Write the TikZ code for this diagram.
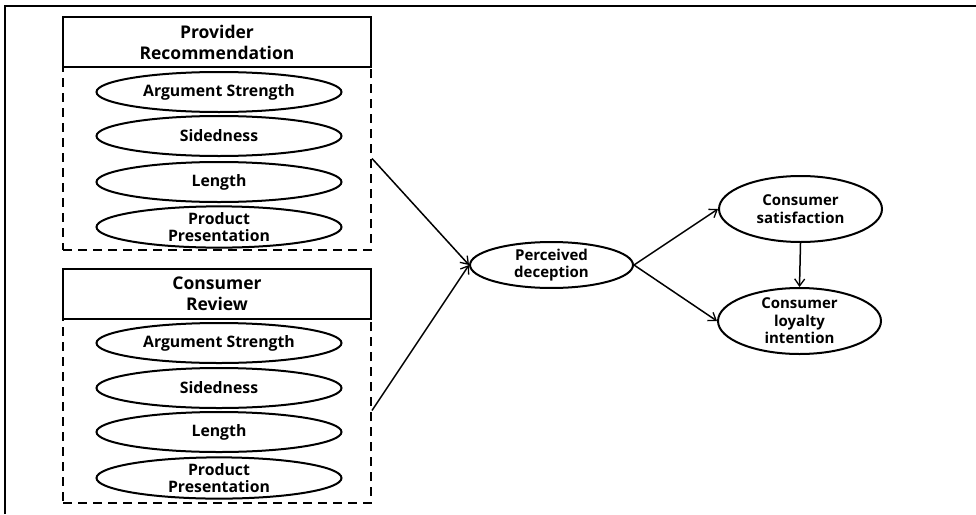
\documentclass[tikz,border=0pt]{standalone}
\usepackage{fontspec}
\setmainfont{Open Sans}
\usetikzlibrary{shapes.geometric,arrows.meta}
\begin{document}
\begin{tikzpicture}[x=1pt,y=-1pt,
  hdr/.style={draw, line width=2pt, fill=white, minimum width=308pt, minimum height=50pt, inner sep=0pt, align=center, font=\fontsize{17.5}{21}\selectfont\bfseries},
  grp/.style={draw, line width=2pt, dash pattern=on 9pt off 6pt, minimum width=308pt, inner sep=0pt},
  item/.style={draw, ellipse, line width=2pt, minimum width=245pt, minimum height=40pt, inner sep=0pt, align=center, font=\fontsize{15.8}{17}\selectfont\bfseries},
  var/.style={draw, ellipse, line width=2pt, minimum width=163pt, inner sep=0pt, align=center, font=\fontsize{15}{17.5}\selectfont\bfseries},
  conn/.style={line width=1.5pt, -{Straight Barb[length=7pt,width=10pt,line width=1.3pt]}}]
\useasboundingbox (0,0) rectangle (976,514);
\draw[line width=1.5pt] (5,514) -- (5,6) -- (976,6);
% provider group
\node[grp, minimum height=183pt] (pbox) at (217,158.5) {};
\node[hdr] (phdr) at (217,42) {Provider\\Recommendation};
\node[item] (p1) at (219,92) {Argument Strength};
\node[item] (p2) at (219,136) {Sidedness};
\node[item] (p3) at (219,182) {Length};
\node[item] (p4) at (219,227) {Product\\Presentation};
% consumer group
\node[grp, minimum height=185pt] (cbox) at (217,410.5) {};
\node[hdr] (chdr) at (217,293.5) {Consumer\\Review};
\node[item] (c1) at (219,343) {Argument Strength};
\node[item] (c2) at (219,388) {Sidedness};
\node[item] (c3) at (219,432) {Length};
\node[item] (c4) at (219,478) {Product\\Presentation};
% outcome variables
\node[var, minimum height=40pt] (pd) at (551.5,265) {Perceived\\deception};
\node[var, minimum height=66pt] (cs) at (800.5,209) {Consumer\\satisfaction};
\node[var, minimum height=66pt] (cl) at (799.5,321) {Consumer\\loyalty\\intention};
% connectors
\draw[conn] (pbox.east) -- (pd.west);
\draw[conn] (cbox.east) -- (pd.west);
\draw[conn] (pd.east) -- (cs.west);
\draw[conn] (pd.east) -- (cl.west);
\draw[conn] (cs.south) -- (cl.north);
\end{tikzpicture}
\end{document}
